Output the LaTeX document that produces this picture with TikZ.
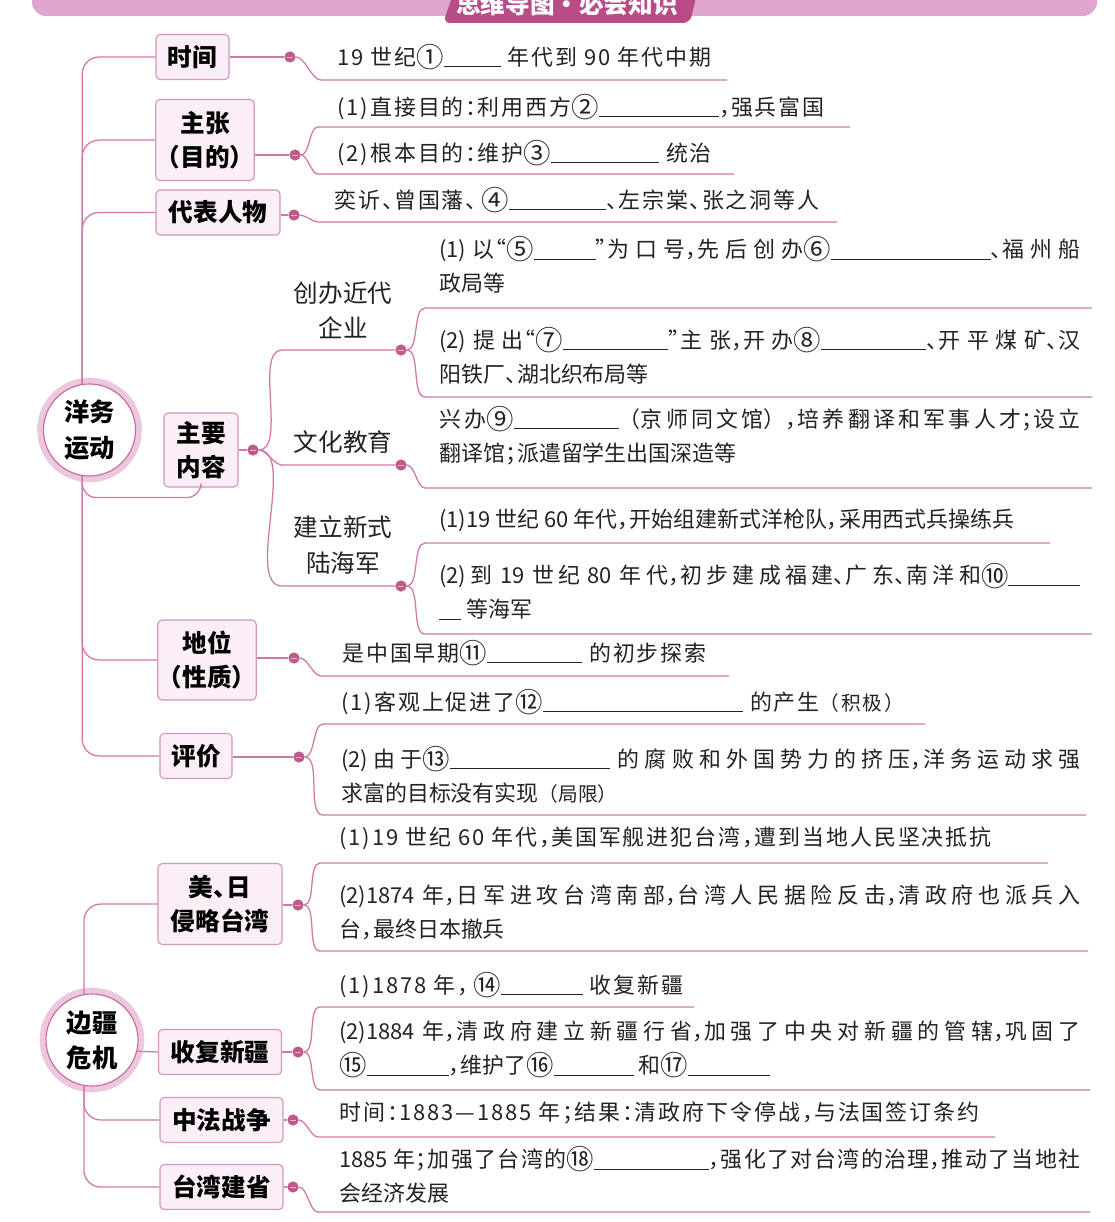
\documentclass[tikz,border=0pt]{standalone}
\usepackage{fontspec}
\setmainfont{Noto Sans CJK SC}
\newfontfamily\spacedfont{Noto Sans CJK SC}[LetterSpace=9]
\usepackage{xcolor}
\usepackage{tikz}
\usetikzlibrary{calc}
\XeTeXlinebreaklocale "zh"
\XeTeXlinebreakskip=0pt plus 3pt minus 0.8pt
\tolerance=9999
\hbadness=10000
\setlength\parindent{0pt}
\definecolor{linkpink}{RGB}{208,120,168}
\definecolor{boxpink}{RGB}{214,150,190}
\definecolor{boxfill}{RGB}{251,238,246}
\definecolor{dotpink}{RGB}{192,90,140}
\definecolor{ringlight}{RGB}{236,200,224}
\definecolor{ringdark}{RGB}{200,105,155}
\definecolor{bandpink}{RGB}{222,165,205}
\definecolor{tabpink}{RGB}{185,75,135}
\definecolor{inkgray}{RGB}{35,35,35}
\newlength\pxu
\setlength\pxu{0.025cm}
\newcommand\blank[1]{\rule[-1.5pt]{#1\pxu}{0.6pt}}
\newcommand\cir[1]{\raisebox{-1.6pt}{\fontsize{19.5}{22}\selectfont #1}}
\newcommand\dou{，\kern-.45em}
\newcommand\dun{、\kern-.45em}
\newcommand\mao{：\kern-.45em}
\newcommand\fen{；\kern-.45em}
\newcommand\lqt{\kern-.45em“}
\newcommand\rqt{”\kern-.45em}
\newcommand\bodyfont{\spacedfont\fontsize{15.6}{24.2}\selectfont}
\newcommand\parafont{\fontsize{15.6}{24.2}\selectfont}
\newcommand\catfont{\fontsize{17.5}{24.2}\selectfont\bfseries}

\begin{document}
\begin{tikzpicture}[x=0.025cm, y=-0.025cm,
    every node/.style={font=\bodyfont, text=inkgray},
    link/.style={draw=linkpink, line width=0.9pt},
    twig/.style={out=0, in=180, looseness=0.7},
    topic/.style={circle, draw=ringdark, line width=0.8pt, fill=white, minimum size=2.3cm, inner sep=0pt, align=center, text=black, font=\fontsize{18}{25}\selectfont\bfseries, preaction={draw=ringlight, line width=9pt}},
    cat/.style={rectangle, rounded corners=3pt, draw=boxpink, fill=boxfill, line width=0.8pt, minimum height=1.125cm, inner sep=0pt, align=center, text=black, font=\catfont},
    knot/.style={circle, fill=dotpink, minimum size=0.28cm, inner sep=0pt, path picture={\draw[white!55!dotpink, line width=0.7pt] ([xshift=2pt]path picture bounding box.west) -- ([xshift=-2pt]path picture bounding box.east);}},
    note/.style={anchor=west, inner sep=0pt},
    para/.style={note, align=justify, font=\parafont},
    sub/.style={align=center, inner sep=0pt, font=\fontsize{17.5}{25}\selectfont}
]
\path[use as bounding box, fill=white] (0,0) rectangle (1115,1222);

% header
\fill[bandpink, rounded corners=10] (32,-20) rectangle (1097,16);
\fill[tabpink, rounded corners=5] (443,23) -- (458,-20) -- (700,-20) -- (690,23) -- cycle;
\node[font=\fontsize{17.5}{20}\selectfont\bfseries, text=white] (head) at (567,4) {思维导图·必会知识};

\node[topic] (yw) at (89.5,430) {洋务\\运动};
\node[topic] (bj) at (92,1040) {边疆\\危机};

\node[cat, minimum width=1.825cm] (shijian) at (192.5,57) {时间};
\node[cat, minimum width=2.45cm, minimum height=2.025cm] (zhuzhang) at (205,140) {主张\\（目的）};
\node[cat, minimum width=3.1cm] (renwu) at (218,212.5) {代表人物};
\node[cat, minimum width=1.85cm, minimum height=1.85cm] (neirong) at (201,450) {主要\\内容};
\node[cat, minimum width=2.45cm, minimum height=2cm] (diwei) at (207,660) {地位\\（性质）};
\node[cat, minimum width=1.8cm] (pingjia) at (196,756) {评价};
\node[cat, minimum width=3.1cm, minimum height=2.025cm] (meiri) at (220,904) {美\dun 日\\侵略台湾};
\node[cat, minimum width=3.075cm] (xinjiang) at (220,1052) {收复新疆};
\node[cat, minimum width=3.075cm] (zhongfa) at (221.5,1120) {中法战争};
\node[cat, minimum width=3.075cm] (jiansheng) at (221.5,1187) {台湾建省};

\node[sub] (qiye) at (343,310) {创办近代\\企业};
\node[sub] (jiaoyu) at (343,442) {文化教育};
\node[sub] (haijun) at (343,545) {建立新式\\陆海军};

\node[knot] (dsj) at (290,57) {};
\node[knot] (dzz) at (295,155) {};
\node[knot] (drw) at (294,215) {};
\node[knot] (dnr) at (253,450) {};
\node[knot] (dqy) at (401,350) {};
\node[knot] (djy) at (401,465) {};
\node[knot] (dhj) at (401,586) {};
\node[knot] (ddw) at (294,658) {};
\node[knot] (dpj) at (299,757) {};
\node[knot] (dmr) at (298,905) {};
\node[knot] (dxj) at (298,1052) {};
\node[knot] (dzf) at (293,1120) {};
\node[knot] (djs) at (293,1187) {};

\coordinate (sj1) at (321,80);   \coordinate (sj2) at (727,80);
\coordinate (zz1) at (318,127);  \coordinate (zz2) at (850,127);
\coordinate (zz3) at (318,174);  \coordinate (zz4) at (734,174);
\coordinate (rw1) at (318,222);  \coordinate (rw2) at (837,222);
\coordinate (nr1) at (282,350);  \coordinate (nr2) at (282,465);  \coordinate (nr3) at (282,586);
\coordinate (qy1) at (425,308);  \coordinate (qy2) at (1092,308);
\coordinate (qy3) at (425,397);  \coordinate (qy4) at (1092,397);
\coordinate (jy1) at (425,488);  \coordinate (jy2) at (1092,488);
\coordinate (hj1) at (425,543);  \coordinate (hj2) at (1050,543);
\coordinate (hj3) at (425,634);  \coordinate (hj4) at (1092,634);
\coordinate (dw1) at (321,676);  \coordinate (dw2) at (729,676);
\coordinate (pj1) at (323,724);  \coordinate (pj2) at (925,724);
\coordinate (pj3) at (323,815);  \coordinate (pj4) at (1086,815);
\coordinate (mr1) at (320,863);  \coordinate (mr2) at (1048,863);
\coordinate (mr3) at (320,951);  \coordinate (mr4) at (1088,951);
\coordinate (xj1) at (320,1007); \coordinate (xj2) at (694,1007);
\coordinate (xj3) at (320,1090); \coordinate (xj4) at (1090,1090);
\coordinate (zf1) at (318,1137); \coordinate (zf2) at (995,1137);
\coordinate (js1) at (318,1212); \coordinate (js2) at (1090,1212);

\draw[link, rounded corners=12] (yw.99) |- (shijian.west);
\draw[link, rounded corners=12] (yw.99) |- (zhuzhang.west);
\draw[link, rounded corners=12] (yw.99) |- (renwu.west);
\draw[link, rounded corners=10] (yw.261) |- ($(neirong.south)+(0,10)$) -- (neirong.south);
\draw[link, rounded corners=12] (yw.261) |- (diwei.west);
\draw[link, rounded corners=12] (yw.261) |- (pingjia.west);
\draw[link, rounded corners=12] (bj.100) |- (meiri.west);
\draw[link] (bj.-14) -- (xinjiang.west);
\draw[link, rounded corners=12] (bj.260) |- (zhongfa.west);
\draw[link, rounded corners=12] (bj.260) |- (jiansheng.west);

\draw[link] (shijian.east |- dsj) -- (dsj);
\draw[link] (zhuzhang.east |- dzz) -- (dzz);
\draw[link] (renwu.east |- drw) -- (drw);
\draw[link] (neirong.east |- dnr) -- (dnr);
\draw[link] (diwei.east |- ddw) -- (ddw);
\draw[link] (pingjia.east |- dpj) -- (dpj);
\draw[link] (meiri.east |- dmr) -- (dmr);
\draw[link] (xinjiang.east |- dxj) -- (dxj);
\draw[link] (zhongfa.east |- dzf) -- (dzf);
\draw[link] (jiansheng.east |- djs) -- (djs);

\draw[link] (dsj) to[twig] (sj1) -- (sj2);
\draw[link] (dzz) to[twig] (zz1) -- (zz2);
\draw[link] (dzz) to[twig] (zz3) -- (zz4);
\draw[link] (drw) to[twig] (rw1) -- (rw2);
\draw[link] (dnr) to[twig] (nr1) -- (dqy);
\draw[link] (dnr) to[twig] (nr2) -- (djy);
\draw[link] (dnr) to[twig] (nr3) -- (dhj);
\draw[link] (dqy) to[twig] (qy1) -- (qy2);
\draw[link] (dqy) to[twig] (qy3) -- (qy4);
\draw[link] (djy) to[twig] (jy1) -- (jy2);
\draw[link] (dhj) to[twig] (hj1) -- (hj2);
\draw[link] (dhj) to[twig] (hj3) -- (hj4);
\draw[link] (ddw) to[twig] (dw1) -- (dw2);
\draw[link] (dpj) to[twig] (pj1) -- (pj2);
\draw[link] (dpj) to[twig] (pj3) -- (pj4);
\draw[link] (dmr) to[twig] (mr1) -- (mr2);
\draw[link] (dmr) to[twig] (mr3) -- (mr4);
\draw[link] (dxj) to[twig] (xj1) -- (xj2);
\draw[link] (dxj) to[twig] (xj3) -- (xj4);
\draw[link] (dzf) to[twig] (zf1) -- (zf2);
\draw[link] (djs) to[twig] (js1) -- (js2);

\node[note] (t1) at (337,57) {19 世纪\cir{①}\blank{57} 年代到 90 年代中期};
\node[note] (t2) at (337,107) {(1)直接目的\mao 利用西方\cir{②}\blank{120}\dou 强兵富国};
\node[note] (t3) at (337,153) {(2)根本目的\mao 维护\cir{③}\blank{108} 统治};
\node[note] (t4) at (334,200) {奕䜣\dun 曾国藩、\kern-.28em\cir{④}\blank{97}\dun 左宗棠\dun 张之洞等人};
\node[para, text width=16.025cm] (t5) at (439,265) {(1)以\lqt \cir{⑤}\blank{62}\rqt 为口号\dou 先后创办\cir{⑥}\blank{160}\dun 福州船\linebreak 政局等};
\node[para, text width=16.025cm] (t6) at (439,355.5) {(2)提出\lqt \cir{⑦}\blank{105}\rqt 主张\dou 开办\cir{⑧}\blank{105}\dun 开平煤矿\dun 汉\linebreak 阳铁厂\dun 湖北织布局等};
\node[para, text width=16.025cm] (t7) at (439,435.5) {兴办\cir{⑨}\blank{105}（京师同文馆）\dou 培养翻译和军事人才\fen 设立\linebreak 翻译馆\fen 派遣留学生出国深造等};
\node[note, font=\parafont] (t8) at (439,520) {(1)19 世纪 60 年代\dou 开始组建新式洋枪队\dou 采用西式兵操练兵};
\node[para, text width=16.025cm] (t9) at (439,591.5) {(2)到 19 世纪 80 年代\dou 初步建成福建\dun 广东\dun 南洋和\cir{⑩}\blank{72}\linebreak \blank{22} 等海军};
\node[note] (t10) at (342,653) {是中国早期\cir{⑪}\blank{95} 的初步探索};
\node[note] (t11) at (341,702) {(1)客观上促进了\cir{⑫}\blank{200} 的产生{\fontsize{14}{20}\selectfont（积极）}};
\node[para, text width=18.475cm] (t12) at (341,774.5) {(2)由于\cir{⑬}\blank{160} 的腐败和外国势力的挤压\dou 洋务运动求强\linebreak 求富的目标没有实现{\fontsize{14}{20}\selectfont（局限）}};
\node[note] (t13) at (339,838) {(1)19 世纪 60 年代\dou 美国军舰进犯台湾\dou 遭到当地人民坚决抵抗};
\node[para, text width=18.525cm] (t14) at (339,912.5) {(2)1874 年\dou 日军进攻台湾南部\dou 台湾人民据险反击\dou 清政府也派兵入\linebreak 台\dou 最终日本撤兵};
\node[note] (t15) at (339,985) {(1)1878 年，\kern-.28em\cir{⑭}\blank{82} 收复新疆};
\node[para, text width=18.525cm] (t16) at (339,1049.5) {(2)1884 年\dou 清政府建立新疆行省\dou 加强了中央对新疆的管辖\dou 巩固了\linebreak \cir{⑮}\blank{82}\dou 维护了\cir{⑯}\blank{80} 和\cir{⑰}\blank{82}};
\node[note] (t17) at (339,1113) {时间\mao 1883—1885 年\fen 结果\mao 清政府下令停战\dou 与法国签订条约};
\node[para, text width=18.525cm] (t18) at (339,1175) {1885 年\fen 加强了台湾的\cir{⑱}\blank{115}\dou 强化了对台湾的治理\dou 推动了当地社\linebreak 会经济发展};

\end{tikzpicture}
\end{document}
